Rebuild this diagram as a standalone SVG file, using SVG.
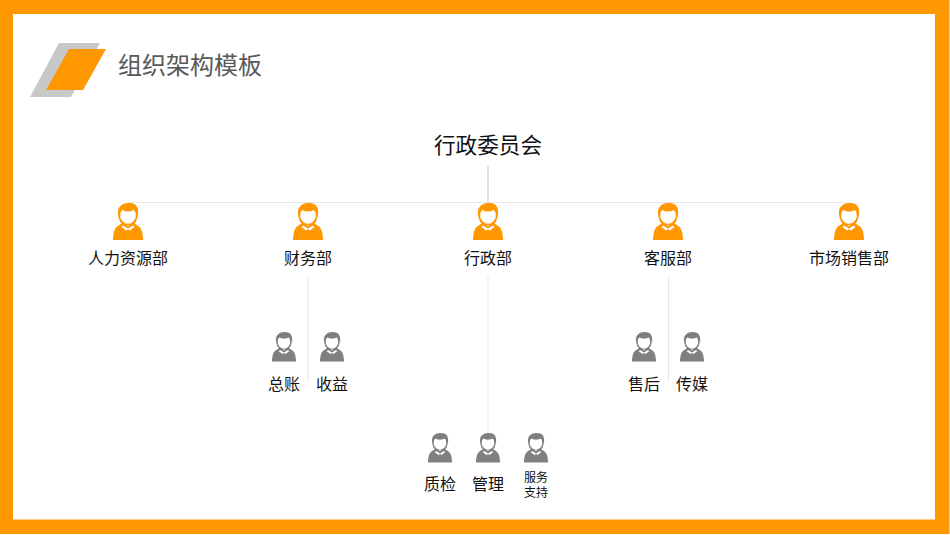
<svg xmlns="http://www.w3.org/2000/svg" width="950" height="535" viewBox="0 0 950 535">
<style>
text{font-family:"Liberation Sans","Noto Sans CJK SC",sans-serif;fill:#111;text-anchor:middle}
.d{font-size:16px}
.s{font-size:16px}
.c{fill:none;stroke:#e6e6e6;stroke-width:1}
.o{fill:#ff9700}
.g{fill:#7f7f7f}
</style>
<defs>
<g id="person">
<path d="M-5.500 19.500C-7 21.500-10.500 22.500-12 24.500C-14 27-15 32-15 37L15 37C15 32 14 27 12 24.500C10.500 22.500 7 21.500 5.500 19.500L0 23Z"/>
<path d="M-8.800 16C-10.500 12-10.500 7-8.800 4.500C-6.800 1.300-3 0 .5 0C5 0 8.200 1.300 9.300 4.500C10.800 8 10.500 12 8.800 16C8.500 20 4.500 22 0 22C-4.500 22-8.500 20-8.800 16Z"/>
<path d="M-7.800 12.500C-7.800 9.500-6.800 7.800-5.500 7C-2.500 9 2.500 9 5.500 7C6.800 7.800 7.800 9.500 7.800 12.500C7.800 17 4 20.800 0 20.800C-4 20.800-7.800 17-7.800 12.500Z" fill="#fff"/>
<path d="M-5 22.500L0 25.500L5 22.500L6.500 24L2 27.500L0 26.300L-2 27.500L-6.500 24Z" fill="#fff"/>
</g>
</defs>
<g id="frame">
<rect x="0" y="0" width="949.500" height="534" fill="#ff9700"/>
<rect x="13" y="14" width="922" height="505.500" fill="#fff"/>
</g>
<g id="title">
<polygon points="59,43 100,43 71,97 30,97" fill="#c8c8c8"/>
<polygon points="69,49 106,49 83,90 46,90" fill="#ff9700"/>
<text x="190" y="74" style="font-size:24px;fill:#595959">组织架构模板</text>
</g>
<g id="connectors">
<path class="c" d="M128 202.500H849"/>
<path d="M488 166V203" fill="none" stroke="#d0d0d0" stroke-width="1.300"/>
<path class="c" d="M308 276V382M488 276V463M668.500 276V382"/>
</g>
<g id="root"><text x="488" y="153" style="font-size:21.600px">行政委员会</text></g>
<g id="n1" class="o"><use href="#person" x="128" y="203"/><text class="d" x="128" y="264">人力资源部</text></g>
<g id="n2" class="o"><use href="#person" x="308" y="203"/><text class="d" x="308" y="264">财务部</text></g>
<g id="n3" class="o"><use href="#person" x="488" y="203"/><text class="d" x="488" y="264">行政部</text></g>
<g id="n4" class="o"><use href="#person" x="668" y="203"/><text class="d" x="668" y="264">客服部</text></g>
<g id="n5" class="o"><use href="#person" x="849" y="203"/><text class="d" x="849" y="264">市场销售部</text></g>
<g id="s1" class="g"><use href="#person" transform="translate(284 332) scale(.8)"/><text class="s" x="284" y="390">总账</text></g>
<g id="s2" class="g"><use href="#person" transform="translate(332 332) scale(.8)"/><text class="s" x="332" y="390">收益</text></g>
<g id="s3" class="g"><use href="#person" transform="translate(644 332) scale(.8)"/><text class="s" x="644" y="390">售后</text></g>
<g id="s4" class="g"><use href="#person" transform="translate(692 332) scale(.8)"/><text class="s" x="692" y="390">传媒</text></g>
<g id="s5" class="g"><use href="#person" transform="translate(440 433) scale(.8)"/><text class="s" x="440" y="490">质检</text></g>
<g id="s6" class="g"><use href="#person" transform="translate(488 433) scale(.8)"/><text class="s" x="488" y="490">管理</text></g>
<g id="s7" class="g"><use href="#person" transform="translate(536 433) scale(.8)"/><text x="536" y="482" style="font-size:12px">服务</text><text x="536" y="497" style="font-size:12px">支持</text></g>
</svg>
